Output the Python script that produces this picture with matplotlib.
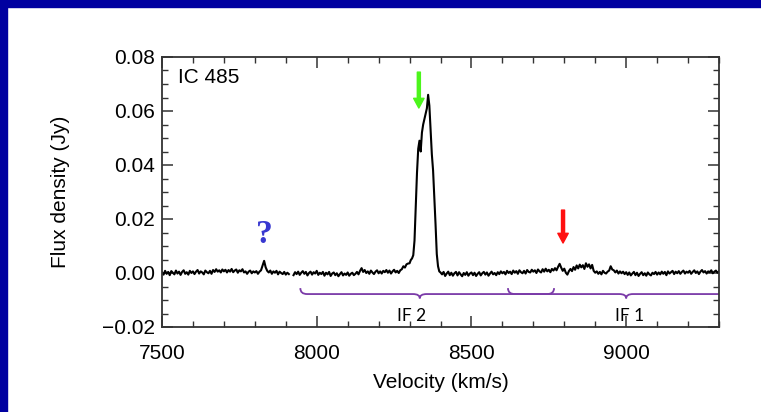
import numpy as np
import matplotlib
matplotlib.use("Agg")
import matplotlib.pyplot as plt
from matplotlib.path import Path
from matplotlib.patches import PathPatch, Rectangle
from matplotlib.ticker import MultipleLocator, FuncFormatter

# spectrum of IC 485, flux in mJy
vel_a = np.arange(7500, 7915, 5)
flux_a = [0.2, -0.6, 0.8, -0.3, 0.4, -0.8, 0.7, 0.1, -0.5, 0.9, -0.2, 0.5, -0.7, 0.4, 1.0, -0.3, 0.3, -0.6, 0.8, 0.0, 0.6,
          -0.4, 0.5, 1.1, -0.2, 0.6, 0.2, -0.5, 0.9, 0.3, -0.1, 0.8, -0.3, 1.1, 0.4, 1.4, 0.5, 1.0, 0.2, 1.3, 0.6,
          1.2, 0.2, 1.1, 0.5, 1.5, 0.3, 0.9, 1.3, 0.1, 1.0, 0.6, 1.4, 0.2, 0.6, -0.3, 0.5, 0.9, -0.1, 0.6, 0.2,
          0.7, -0.3, 0.5, 1.0, 2.7, 4.5, 2.1, 0.8, 0.2, 0.9, -0.3, 0.6, 0.1, 0.8, -0.5, 0.5, 0.0, -0.4, 0.4, -0.6, 0.1, -0.4]

vel_b = np.arange(7925, 8300, 5)
flux_b = [-0.8, 0.3, -0.4, 0.5, -0.7, 0.1, 0.7, -0.3, 0.4, -0.9, 0.0, 0.5, -0.6, 0.3, -0.2, 0.8, -0.7, 0.1, -0.4, 0.4,
          -1.0, 0.1, -0.5, 0.4, -1.1, -0.2, 0.2, -0.8, -0.1, -1.2, -0.4, 0.3, -0.9, -0.2, -0.7, 0.2, -1.0, -0.3, 0.1, -0.8,
          -0.3, 0.4, -0.5, 0.8, 1.8, 0.4, 1.1, 0.0, 0.6, -0.3, 0.9, 0.2, -0.4, 0.5, 1.0, -0.1, 0.6, -0.2, 0.8, 0.3,
          1.1, 0.1, 0.9, -0.2, 0.6, 1.2, 0.2, 0.8, 0.0, 1.0, 1.4, 2.5, 2.0, 3.2, 3.5]

vel_peak = np.arange(8300, 8404, 4)
flux_peak = [3.6, 4.8, 5.4, 6.6, 12, 24, 37, 46, 49, 45, 52, 55, 57, 59, 61, 66, 62, 53, 44, 38, 28, 18, 7, 2.5, 0.6, 0.2]

vel_c = np.arange(8405, 9305, 5)
flux_c = [-0.5, 0.4, -1.1, -0.2, 0.5, -0.8, 0.1, -1.0, -0.1, 0.4, -0.9, 0.3, -0.5, -1.2, 0.0, -0.7, 0.3, -1.0, -0.2, 0.2,
          -0.8, 0.1, -1.1, -0.3, 0.3, -0.9, -0.1, 0.4, -0.6, 0.2, -1.0, -0.2, 0.5, -0.5, 0.0, -0.8, 0.3, -0.4, 0.6, -0.1,
          0.4, -0.5, 0.8, 0.0, 0.5, -0.4, 0.9, 0.1, 0.7, -0.3, 1.0, 0.3, -0.1, 0.8, -0.2, 1.1, 0.4, 0.2, 1.2, 0.5,
          1.0, 0.0, 1.3, 0.6, 0.2, 1.4, 0.5, 1.6, 0.6, 1.2, 0.3, 1.5, 0.9, 1.8, 1.0, 2.3, 3.4, 2.0, 0.8, 1.6,
          0.1, -0.6, 0.7, 1.5, 0.7, 2.2, 1.2, 2.8, 1.7, 3.1, 2.1, 2.9, 1.5, 3.6, 2.3, 3.2, 1.7, 3.0, 0.8, 0.1,
          0.6, -0.3, 0.4, -0.5, 0.8, 0.1, -0.2, 0.5, 0.9, 2.5, 1.3, 1.0, 0.2, 0.9, -0.2, 0.6, -0.1, 0.5, -0.4, 0.3,
          -0.7, 0.2, -0.9, -0.2, 0.4, -0.8, 0.1, -1.1, -0.3, 0.3, -0.8, -0.1, -1.0, 0.2, -0.5, -0.9, 0.1, -0.4, 0.4, -0.6,
          0.2, -0.5, 0.5, -0.3, 0.4, -0.8, 0.6, -0.2, 0.3, 0.8, -0.4, 0.5, -0.1, 0.7, -0.3, 0.4, 0.9, -0.2, 0.5, 0.1,
          0.8, -0.3, 0.4, 1.0, 0.0, 0.6, -0.4, 0.5, 1.1, 0.2, 0.7, -0.2, 0.6, 0.3, 1.0, -0.1, 0.5, 0.9, 0.1, 0.6]

# IF bands: (left end, centre, right end) in km/s
if_names = ["IF 2", "IF 1"]
if_bands = [(7947, 8333, 8767), (8618, 9000, 9382)]
if_label_vel = [8305, 9010]

# marked velocities
arrow_vel = [8330, 8796]
arrow_top = [0.0744, 0.0233]
arrow_tip = [0.0611, 0.0111]
arrow_col = ["#4cf51c", "#ff1010"]
question_vel = 7830

plt.rcParams['font.family'] = ['Liberation Sans', 'DejaVu Sans']

fig = plt.figure(figsize=(7.61, 4.12), dpi=100)
fig.patches.append(Rectangle((0, 0), 7 / 761, 1, transform=fig.transFigure, color="#0000a0", zorder=-1))
fig.patches.append(Rectangle((0, 1 - 7 / 412), 1, 7 / 412, transform=fig.transFigure, color="#0000a0", zorder=-1))

ax = fig.add_axes([162 / 761, 85 / 412, 557 / 761, 270 / 412])

vel = np.concatenate([vel_a, [7917], vel_b, vel_peak, vel_c])
flux = np.concatenate([flux_a, [np.nan], flux_b, flux_peak, flux_c]) / 1000.0
ax.plot(vel, flux, color="black", lw=1.5)

ax.set_xlim(7500, 9300)
ax.set_ylim(-0.02, 0.08)

# braces
purple = "#7a3aa8"
y_line, y_end, y_cusp = -0.0078, -0.0056, -0.0094
d = 22
for (x0, xc, x1), name, lv in zip(if_bands, if_names, if_label_vel):
    verts = [(x0, y_end), (x0, y_line), (x0 + d, y_line),
             (xc - d, y_line), (xc, y_line), (xc, y_cusp),
             (xc, y_line), (xc + d, y_line),
             (x1 - d, y_line), (x1, y_line), (x1, y_end)]
    codes = [Path.MOVETO, Path.CURVE3, Path.CURVE3,
             Path.LINETO, Path.CURVE3, Path.CURVE3,
             Path.CURVE3, Path.CURVE3,
             Path.LINETO, Path.CURVE3, Path.CURVE3]
    ax.add_patch(PathPatch(Path(verts, codes), fill=False, edgecolor=purple, lw=1.3))
    ax.text(lv, -0.0158, name, ha="center", va="center", fontsize=12.5, family=["Lato", "DejaVu Sans"])

for v, top, tip, c in zip(arrow_vel, arrow_top, arrow_tip, arrow_col):
    ax.annotate("", xy=(v, tip), xytext=(v, top),
                arrowprops=dict(facecolor=c, edgecolor=c, width=2.2, headwidth=7.5, headlength=7, shrink=0))

ax.text(question_vel, 0.0142, "?", ha="center", va="center", fontsize=24, fontweight="bold",
        color="#3838d0", family=["Liberation Serif", "DejaVu Serif"])

ax.text(0.029, 0.925, "IC 485", transform=ax.transAxes, fontsize=15, ha="left", va="center")

ax.xaxis.set_major_locator(MultipleLocator(500))
ax.xaxis.set_minor_locator(MultipleLocator(100))
ax.yaxis.set_major_locator(MultipleLocator(0.02))
ax.yaxis.set_minor_locator(MultipleLocator(0.005))
ax.yaxis.set_major_formatter(FuncFormatter(lambda v, p: f"{v:.2f}".replace("-", "\u2212")))
ax.tick_params(which="both", direction="in", top=True, right=True, labelsize=15, color="#333333")
ax.tick_params(which="major", length=8, width=1.1)
ax.tick_params(which="minor", length=4.5, width=1.0)
ax.tick_params(axis="x", pad=12)
ax.tick_params(axis="y", pad=5)
for s in ax.spines.values():
    s.set_color("#333333")
    s.set_linewidth(1.3)

ax.set_xlabel("Velocity (km/s)", fontsize=15)
ax.set_ylabel("Flux density (Jy)", fontsize=15)
ax.xaxis.set_label_coords(0.5, -0.172)
ax.yaxis.set_label_coords(-0.166, 0.5)

fig.savefig("out.png", dpi=100)
